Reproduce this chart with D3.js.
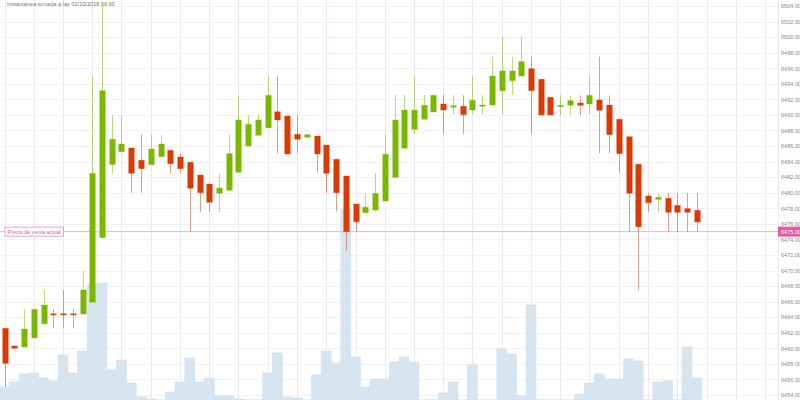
<!DOCTYPE html>
<html><head><meta charset="utf-8">
<script src="https://cdn.jsdelivr.net/npm/d3@7"></script>
<style>html,body{margin:0;padding:0;background:#fff;}svg{display:block;font-family:"Liberation Sans",Arial,sans-serif;}</style>
</head><body>
<svg id="c" width="800" height="400"></svg>
<script>
const titleText = "Instantánea tomada a las 02/10/2018 09:00";
const currentPrice = 6475.00;
const currentLabel = "Precio de venta actual";
const opens  = [6462.57,6460.30,6460.17,6461.33,6463.16,6464.45,6464.45,6464.45,6464.41,6465.92,6474.22,6483.65,6485.27,6485.75,6484.17,6483.60,6484.63,6485.45,6484.59,6483.91,6482.28,6481.12,6479.93,6480.31,6482.62,6486.00,6487.38,6488.36,6490.41,6489.86,6487.51,6487.12,6487.29,6486.13,6484.30,6482.15,6478.55,6477.43,6477.78,6478.94,6481.98,6485.71,6488.15,6489.44,6490.38,6491.40,6490.98,6491.11,6490.63,6491.19,6491.27,6493.11,6494.40,6495.00,6495.94,6494.58,6492.27,6491.06,6491.24,6491.53,6491.40,6491.92,6491.27,6489.44,6487.20,6483.65,6479.58,6479.15,6479.28,6478.38,6477.95,6477.74];
const highs  = [6462.57,6460.30,6465.01,6465.01,6467.50,6465.01,6467.50,6465.01,6469.98,6495.00,6504.26,6489.99,6489.99,6485.75,6487.51,6487.51,6487.51,6485.45,6485.02,6483.91,6482.28,6481.12,6482.50,6487.51,6492.52,6489.99,6489.99,6495.00,6495.00,6489.86,6489.99,6487.46,6487.29,6486.13,6484.30,6482.15,6478.55,6479.93,6482.50,6487.51,6492.56,6492.56,6495.00,6492.56,6492.52,6492.56,6492.56,6492.52,6495.00,6492.56,6497.48,6500.05,6497.48,6500.05,6497.48,6494.58,6492.27,6492.56,6492.52,6492.52,6495.00,6497.48,6492.52,6489.44,6487.20,6483.65,6479.93,6479.93,6479.93,6479.93,6479.93,6479.93];
const lows   = [6455.07,6460.00,6460.17,6461.33,6463.16,6462.57,6462.57,6462.57,6464.41,6465.92,6474.22,6482.50,6485.27,6480.00,6480.00,6483.60,6484.63,6482.50,6482.50,6474.99,6477.52,6477.52,6477.52,6480.31,6482.62,6486.00,6487.38,6488.36,6485.07,6484.98,6485.07,6487.12,6482.57,6480.00,6477.56,6472.55,6474.99,6477.43,6477.56,6478.94,6481.98,6485.71,6487.55,6489.44,6490.38,6487.55,6490.08,6487.55,6490.08,6490.08,6491.27,6490.08,6492.56,6495.00,6487.55,6489.99,6489.99,6489.99,6489.99,6489.99,6490.08,6485.07,6485.07,6482.57,6474.99,6467.50,6477.56,6477.56,6474.99,6474.99,6474.99,6474.99];
const closes = [6458.07,6460.00,6462.48,6465.01,6465.57,6464.41,6464.41,6464.41,6467.50,6482.50,6493.11,6486.87,6486.26,6482.50,6483.09,6485.62,6486.26,6483.73,6483.09,6480.57,6480.00,6478.77,6480.61,6485.02,6489.35,6488.79,6489.35,6492.52,6489.35,6484.98,6486.87,6487.46,6484.98,6482.50,6480.00,6474.99,6476.27,6478.13,6479.93,6484.94,6489.35,6490.63,6490.63,6491.24,6492.52,6490.63,6491.19,6490.03,6491.88,6491.27,6495.00,6495.65,6495.65,6496.84,6493.11,6489.99,6489.99,6491.24,6491.83,6491.24,6492.52,6490.60,6487.46,6485.02,6479.93,6475.63,6478.72,6479.41,6477.48,6477.48,6477.48,6476.24];
const volumes = [13,18,26,27,22,19,45,27,49,115,117,30,40,17,3,1,0,8,18,42,18,22,4,4,1,0,0,27,47,3,2,0,25,49,37,191,43,13,21,21,38,43,38,0,0,7,18,0,35,0,0,51,46,4,95,0,0,0,0,6,17,26,21,21,41,39,0,18,19,0,53,22];
const priceTicks = [6454,6456,6458,6460,6462,6464,6466,6468,6470,6472,6474,6476,6478,6480,6482,6484,6486,6488,6490,6492,6494,6496,6498,6500,6502,6504];

const W = 800, H = 400, axisX = 778;
const svg = d3.select("#c");
const n = opens.length;
const slots = 80;
const x = d3.scaleLinear().domain([0, n - 1]).range([4.5, 696.75]);
const step = x(1) - x(0);
const y = d3.scaleLinear().domain([6454, 6504]).range([395, 6]);
const yv = d3.scaleLinear().domain([0, 100]).range([H, H - 100]);

// grid
const gridV = d3.range(0, slots, 3);
svg.append("g").selectAll("line").data(priceTicks).join("line")
  .attr("x1", 0).attr("x2", axisX).attr("y1", d => Math.round(y(d)) + 0.5).attr("y2", d => Math.round(y(d)) + 0.5)
  .attr("stroke", "#f1f1f6").attr("stroke-width", 1);
svg.append("g").selectAll("line").data(gridV).join("line")
  .attr("y1", 0).attr("y2", H).attr("x1", d => Math.round(x(d)) + 0.5).attr("x2", d => Math.round(x(d)) + 0.5)
  .attr("stroke", "#e9e9f3").attr("stroke-width", 1);

// volume
const vpts = [];
volumes.forEach((v, i) => { vpts.push([x(i) - step / 2, v]); vpts.push([x(i) + step / 2, v]); });
svg.append("path").datum(vpts)
  .attr("d", d3.area().x(d => d[0]).y0(H).y1(d => yv(d[1])))
  .attr("fill", "#d7e5f1").attr("stroke", "#cadcec").attr("stroke-width", 0.6);

// current price line
svg.append("line").attr("x1", 0).attr("x2", axisX).attr("y1", y(currentPrice)).attr("y2", y(currentPrice))
  .attr("stroke", "#ecb3d3").attr("stroke-width", 1);

// candles
const green = "#7ab800", red = "#d93a06";
const data = opens.map((o, i) => ({ i, o, h: highs[i], l: lows[i], c: closes[i] }));
const cg = svg.append("g");
cg.selectAll("line").data(data).join("line")
  .attr("x1", d => Math.round(x(d.i)) + 0.5).attr("x2", d => Math.round(x(d.i)) + 0.5)
  .attr("y1", d => y(d.h)).attr("y2", d => y(d.l))
  .attr("stroke", d => d.c >= d.o ? green : red).attr("stroke-opacity", 0.5).attr("stroke-width", 1);
cg.selectAll("rect").data(data).join("rect")
  .attr("x", d => Math.round(x(d.i)) + 0.5 - 2.8).attr("width", 5.6)
  .attr("y", d => Math.min(y(d.o), y(d.c)))
  .attr("height", d => Math.max(1.2, Math.abs(y(d.o) - y(d.c))))
  .attr("fill", d => d.c >= d.o ? green : red)
  .attr("stroke", d => d.c >= d.o ? green : red).attr("stroke-opacity", 0.35).attr("stroke-width", 1);

// right axis
svg.append("line").attr("x1", axisX + 0.5).attr("x2", axisX + 0.5).attr("y1", 0).attr("y2", H)
  .attr("stroke", "#e6e6f0");
const ax = svg.append("g").attr("transform", `translate(${axisX},0)`)
  .call(d3.axisRight(y).tickValues(priceTicks).tickFormat(d3.format(".2f")).tickSize(0).tickPadding(3));
ax.select(".domain").remove();
ax.selectAll("text").attr("fill", "#8a8a8a").style("font-size", "5.6px");

// current price tag on axis
const py = y(currentPrice);
svg.append("rect").attr("x", axisX).attr("y", py - 5).attr("width", W - axisX).attr("height", 10).attr("fill", "#e05aa5");
svg.append("text").attr("x", axisX + 3).attr("y", py).attr("dy", "0.35em").attr("fill", "#fff")
  .style("font-size", "5.6px").text(d3.format(".2f")(currentPrice));

// left label
const lbl = svg.append("g");
const lt = lbl.append("text").attr("x", 7.5).attr("y", py).attr("dy", "0.35em").attr("fill", "#d9579e")
  .style("font-size", "5.4px").text(currentLabel);
const bb = lt.node().getBBox();
lbl.insert("rect", "text").attr("x", bb.x - 2.5).attr("y", py - 4.5).attr("width", bb.width + 5).attr("height", 9)
  .attr("fill", "#fff").attr("stroke", "#e58cc0").attr("stroke-width", 0.8);

// title
svg.append("text").attr("x", 7).attr("y", 4).attr("dy", "0.35em").attr("fill", "#777")
  .style("font-size", "5.6px").text(titleText);
</script>
</body></html>
